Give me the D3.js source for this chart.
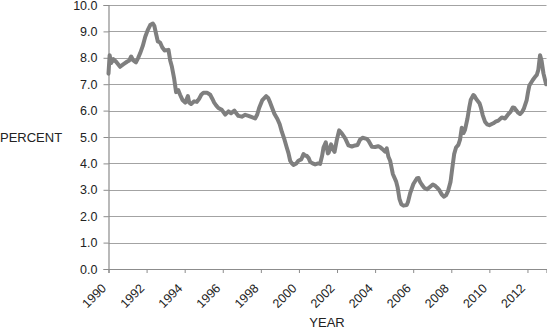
<!DOCTYPE html>
<html><head><meta charset="utf-8">
<script src="https://cdn.jsdelivr.net/npm/d3@7"></script>
<style>html,body{margin:0;padding:0;background:#fff;}svg{display:block;font-family:"Liberation Sans",Arial,sans-serif;}</style>
</head><body><svg id="c" width="547" height="330"></svg>
<script>
const years = [1990.00,1990.06,1990.14,1990.26,1990.40,1990.61,1990.77,1990.97,1991.09,1991.19,1991.30,1991.44,1991.56,1991.66,1991.80,1991.93,1992.06,1992.19,1992.33,1992.41,1992.50,1992.59,1992.71,1992.82,1992.94,1993.15,1993.24,1993.33,1993.45,1993.55,1993.66,1993.76,1993.89,1994.03,1994.17,1994.24,1994.34,1994.50,1994.64,1994.76,1994.87,1994.99,1995.17,1995.34,1995.45,1995.55,1995.65,1995.77,1995.95,1996.13,1996.30,1996.44,1996.61,1996.73,1996.82,1997.00,1997.18,1997.35,1997.53,1997.70,1997.81,1997.91,1998.08,1998.28,1998.38,1998.49,1998.62,1998.71,1998.87,1998.99,1999.10,1999.22,1999.36,1999.45,1999.54,1999.63,1999.71,1999.86,1999.97,2000.12,2000.24,2000.33,2000.42,2000.51,2000.59,2000.72,2000.85,2001.01,2001.11,2001.22,2001.29,2001.41,2001.52,2001.57,2001.69,2001.81,2001.87,2001.99,2002.11,2002.25,2002.43,2002.60,2002.78,2002.95,2003.08,2003.21,2003.34,2003.56,2003.66,2003.83,2004.00,2004.16,2004.24,2004.37,2004.52,2004.61,2004.70,2004.79,2004.93,2005.10,2005.18,2005.28,2005.38,2005.49,2005.66,2005.73,2005.84,2006.01,2006.19,2006.28,2006.36,2006.45,2006.57,2006.73,2006.86,2007.03,2007.15,2007.26,2007.36,2007.50,2007.62,2007.73,2007.83,2007.96,2008.04,2008.15,2008.25,2008.37,2008.46,2008.55,2008.64,2008.72,2008.85,2008.94,2009.02,2009.16,2009.22,2009.30,2009.48,2009.56,2009.65,2009.77,2009.88,2010.00,2010.21,2010.33,2010.47,2010.65,2010.82,2011.00,2011.11,2011.23,2011.32,2011.40,2011.51,2011.61,2011.72,2011.82,2011.96,2012.03,2012.10,2012.28,2012.40,2012.49,2012.57,2012.66,2012.74,2012.84,2012.98];
const percent = [7.4,8.1,7.8,7.95,7.85,7.66,7.75,7.85,7.9,8.05,7.9,7.83,8.0,8.17,8.45,8.8,9.05,9.24,9.3,9.2,8.9,8.62,8.58,8.4,8.28,8.3,7.9,7.66,7.2,6.7,6.78,6.6,6.4,6.3,6.55,6.3,6.25,6.35,6.33,6.45,6.6,6.68,6.68,6.6,6.45,6.3,6.2,6.1,6.03,5.85,5.97,5.9,6.0,5.88,5.8,5.77,5.84,5.8,5.75,5.7,5.85,6.1,6.4,6.55,6.48,6.3,6.05,5.88,5.68,5.48,5.2,4.95,4.6,4.39,4.1,4.0,3.94,4.0,4.1,4.15,4.35,4.3,4.28,4.2,4.06,4.0,3.96,4.0,3.98,4.3,4.6,4.8,4.38,4.42,4.72,4.5,4.44,4.89,5.25,5.14,4.95,4.68,4.64,4.68,4.7,4.9,4.97,4.93,4.85,4.63,4.62,4.65,4.63,4.55,4.45,4.57,4.25,4.1,3.6,3.32,3.1,2.65,2.45,2.4,2.42,2.55,2.87,3.22,3.43,3.45,3.3,3.2,3.08,3.02,3.1,3.2,3.15,3.08,3.0,2.82,2.74,2.8,2.95,3.3,3.75,4.35,4.6,4.7,4.9,5.35,5.15,5.27,5.7,6.1,6.4,6.59,6.55,6.45,6.28,6.1,5.83,5.58,5.48,5.45,5.52,5.58,5.62,5.74,5.7,5.87,5.95,6.12,6.1,6.02,5.92,5.87,5.95,6.09,6.4,6.7,6.95,7.16,7.28,7.35,7.54,8.1,7.9,7.41,7.0];
const xTicks = [1990,1992,1994,1996,1998,2000,2002,2004,2006,2008,2010,2012];
const yTicks = [0,1,2,3,4,5,6,7,8,9,10];
const xTitle = "YEAR";
const yTitle = "PERCENT";

const svg = d3.select("#c");
const x = d3.scaleLinear().domain([1990, 2013]).range([108.5, 546.5]);
const y = d3.scaleLinear().domain([0, 10]).range([269, 5]);

// gridlines
svg.append("g").selectAll("line").data(yTicks).join("line")
  .attr("x1", x(1990)).attr("x2", x(2013))
  .attr("y1", d => Math.round(y(d)) + 0.5).attr("y2", d => Math.round(y(d)) + 0.5)
  .attr("stroke", "#a3a3a3").attr("stroke-width", 1.2);

// y axis
const yAxis = d3.axisLeft(y).tickValues(yTicks).tickFormat(d3.format(".1f")).tickSize(5).tickPadding(6);
const gy = svg.append("g").attr("transform", `translate(${x(1990)},0)`).call(yAxis);
gy.select(".domain").attr("stroke", "#8c8c8c").attr("stroke-width", 1.2);
gy.selectAll(".tick line").attr("stroke", "#8c8c8c");
gy.selectAll("text").attr("font-size", 12.5).attr("fill", "#222").attr("font-family", "Liberation Sans, Arial, sans-serif");

// x axis
const xAxis = d3.axisBottom(x).tickValues(xTicks).tickFormat(d3.format("d")).tickSize(4).tickPadding(4);
const gx = svg.append("g").attr("transform", `translate(0,${y(0)})`).call(xAxis);
gx.select(".domain").attr("stroke", "#8c8c8c").attr("stroke-width", 1.2);
gx.selectAll(".tick line").attr("stroke", "#8c8c8c");
gx.selectAll("text").attr("font-size", 12.5).attr("fill", "#222").attr("font-family", "Liberation Sans, Arial, sans-serif")
  .attr("text-anchor", "end").attr("dy", null).attr("y", 0)
  .attr("transform", "translate(-2,20) rotate(-45)");

// line
const line = d3.line().x((d, i) => x(years[i])).y(d => y(d)).curve(d3.curveLinear);
svg.append("path").datum(percent).attr("d", line)
  .attr("fill", "none").attr("stroke", "#7f7f7f").attr("stroke-width", 4)
  .attr("stroke-linejoin", "round").attr("stroke-linecap", "round");

// titles
svg.append("text").attr("x", 0).attr("y", y(5) + 5).attr("font-size", 13).attr("fill", "#222").text(yTitle);
svg.append("text").attr("x", 327).attr("y", 327).attr("text-anchor", "middle").attr("font-size", 13).attr("fill", "#222").text(xTitle);
</script></body></html>
